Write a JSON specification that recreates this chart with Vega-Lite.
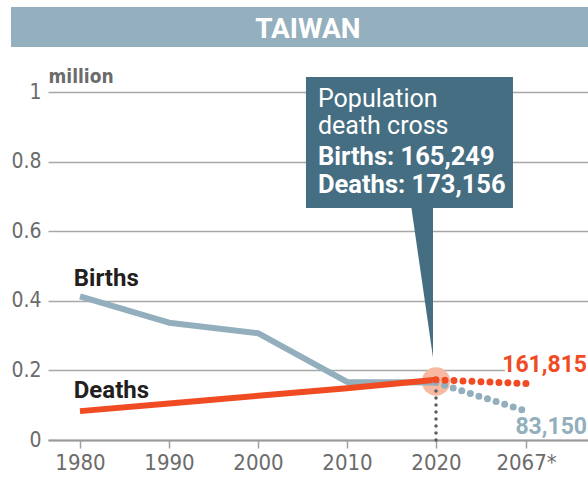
{
  "$schema": "https://vega.github.io/schema/vega-lite/v6.json",
  "width": 540,
  "height": 348,
  "autosize": {"type": "none"},
  "padding": {"left": 48, "top": 92, "right": 0, "bottom": 37},
  "background": "white",
  "config": {"view": {"stroke": null}},
  "datasets": {
    "series": [
      {"year": 1980, "v": 0.413, "series": "Births", "kind": "actual"},
      {"year": 1990, "v": 0.337, "series": "Births", "kind": "actual"},
      {"year": 2000, "v": 0.307, "series": "Births", "kind": "actual"},
      {"year": 2010, "v": 0.167, "series": "Births", "kind": "actual"},
      {"year": 2020, "v": 0.165, "series": "Births", "kind": "actual"},
      {"year": 2020, "v": 0.165, "series": "Births", "kind": "projection"},
      {"year": 2067, "v": 0.0832, "series": "Births", "kind": "projection"},
      {"year": 1980, "v": 0.083, "series": "Deaths", "kind": "actual"},
      {"year": 1990, "v": 0.105, "series": "Deaths", "kind": "actual"},
      {"year": 2000, "v": 0.127, "series": "Deaths", "kind": "actual"},
      {"year": 2010, "v": 0.149, "series": "Deaths", "kind": "actual"},
      {"year": 2020, "v": 0.173, "series": "Deaths", "kind": "actual"},
      {"year": 2020, "v": 0.173, "series": "Deaths", "kind": "projection"},
      {"year": 2067, "v": 0.162, "series": "Deaths", "kind": "projection"}
    ]
  },
  "encoding": {
    "x": {
      "field": "year",
      "type": "quantitative",
      "scale": {"domain": [1976.4045, 2020, 2067, 2099.4], "range": [0, 388, 478, 540], "nice": false, "zero": false},
      "axis": {
        "values": [1980, 1990, 2000, 2010, 2020, 2067],
        "labelExpr": "datum.value == 2067 ? '2067*' : datum.value + ''",
        "title": null,
        "grid": false,
        "labelFlush": false,
        "domainColor": "#9a9a9a",
        "domainWidth": 2,
        "tickColor": "#a0a0a0",
        "tickWidth": 1.5,
        "tickSize": 8,
        "labelFont": "DejaVu Sans Condensed",
        "labelFontSize": 22,
        "labelColor": "#6b6b6b",
        "labelPadding": 4
      }
    },
    "y": {
      "field": "v",
      "type": "quantitative",
      "scale": {"domain": [0, 1], "nice": false, "zero": false},
      "axis": {
        "values": [0, 0.2, 0.4, 0.6, 0.8, 1],
        "format": "~g",
        "title": "million",
        "titleAngle": 0,
        "titleAlign": "left",
        "titleBaseline": "alphabetic",
        "titleX": 0,
        "titleY": -10,
        "titleFont": "DejaVu Sans Condensed",
        "titleFontWeight": "bold",
        "titleFontSize": 19,
        "titleColor": "#6b6b6b",
        "domain": false,
        "ticks": false,
        "labelPadding": 7,
        "labelFont": "DejaVu Sans Condensed",
        "labelFontSize": 21,
        "labelColor": "#6b6b6b",
        "gridColor": "#a8a8a8",
        "gridWidth": 1.5
      }
    }
  },
  "layer": [
    {
      "data": {"values": [{"year": 1972.25, "year2": 2099.5, "v": 1.244, "v2": 1.129}]},
      "mark": {"type": "rect", "color": "#94afbd"},
      "encoding": {"x2": {"field": "year2"}, "y2": {"field": "v2"}}
    },
    {
      "data": {"values": [{"year": 2005.6, "v": 1.1552, "label": "TAIWAN"}]},
      "mark": {"type": "text", "font": "Roboto", "fontWeight": "bold", "fontSize": 28, "color": "white", "align": "center", "baseline": "alphabetic"},
      "encoding": {"text": {"field": "label"}}
    },
    {
      "data": {"values": [{"year": 2056, "year2": 2100, "v": 0.18, "v2": 0.23}]},
      "mark": {"type": "rect", "color": "white"},
      "encoding": {"x2": {"field": "year2"}, "y2": {"field": "v2"}}
    },
    {
      "data": {"values": [{"year": 2020, "v": 0.168}]},
      "mark": {"type": "point", "shape": "circle", "filled": true, "size": 804, "color": "#f7b9a1", "opacity": 1}
    },
    {
      "data": {"values": [{"year": 2020, "v": 0, "v2": 0.15}]},
      "mark": {"type": "rule", "color": "#5d5d5d", "strokeWidth": 3.5, "strokeDash": [0, 7], "strokeCap": "round"},
      "encoding": {"y2": {"field": "v2"}}
    },
    {
      "data": {"name": "series"},
      "transform": [{"filter": "datum.kind == 'actual'"}],
      "mark": {"type": "line", "strokeWidth": 6, "strokeCap": "butt", "strokeJoin": "round"},
      "encoding": {
        "color": {"field": "series", "type": "nominal", "scale": {"domain": ["Births", "Deaths"], "range": ["#93afbd", "#f04b23"]}, "legend": null}
      }
    },
    {
      "data": {"name": "series"},
      "transform": [{"filter": "datum.kind == 'projection'"}],
      "mark": {"type": "line", "strokeWidth": 7, "strokeCap": "round", "strokeDash": [0, 9]},
      "encoding": {
        "color": {"field": "series", "type": "nominal", "legend": null}
      }
    },
    {
      "data": {"values": [{"year": 2005.39, "year2": 2060.2, "v": 1.0431, "v2": 0.6667}]},
      "mark": {"type": "rect", "color": "#466e82"},
      "encoding": {"x2": {"field": "year2"}, "y2": {"field": "v2"}}
    },
    {
      "data": {"values": [{"year": 2020, "v": 0.4526}]},
      "mark": {"type": "point", "shape": "M -0.333 -1.03 L -0.04 -1.03 L -0.04 1 Z", "size": 22500, "filled": true, "color": "#466e82", "opacity": 1, "strokeWidth": 0}
    },
    {
      "data": {"values": [{"year": 2006.74, "v": 0.9569, "label": ["Population", "death cross"]}]},
      "mark": {"type": "text", "font": "Roboto", "fontSize": 25, "color": "white", "align": "left", "baseline": "alphabetic", "lineHeight": 27},
      "encoding": {"text": {"field": "label"}}
    },
    {
      "data": {"values": [{"year": 2006.74, "v": 0.7902, "label": ["Births: 165,249", "Deaths: 173,156"]}]},
      "mark": {"type": "text", "font": "Roboto", "fontWeight": "bold", "fontSize": 25.5, "color": "white", "align": "left", "baseline": "alphabetic", "lineHeight": 28},
      "encoding": {"text": {"field": "label"}}
    },
    {
      "data": {"values": [
        {"year": 1979.3, "v": 0.4425, "label": "Births"},
        {"year": 1979.3, "v": 0.1207, "label": "Deaths"}
      ]},
      "mark": {"type": "text", "font": "Roboto", "fontWeight": "bold", "fontSize": 24, "color": "#231f20", "align": "left", "baseline": "alphabetic"},
      "encoding": {"text": {"field": "label"}}
    },
    {
      "data": {"values": [
        {"year": 2098.9, "v": 0.195, "label": "161,815", "series": "Deaths"},
        {"year": 2098.9, "v": 0.017, "label": "83,150", "series": "Births"}
      ]},
      "mark": {"type": "text", "font": "Roboto", "fontWeight": "bold", "fontSize": 23, "align": "right", "baseline": "alphabetic"},
      "encoding": {
        "text": {"field": "label"},
        "color": {"field": "series", "type": "nominal", "legend": null}
      }
    }
  ]
}
